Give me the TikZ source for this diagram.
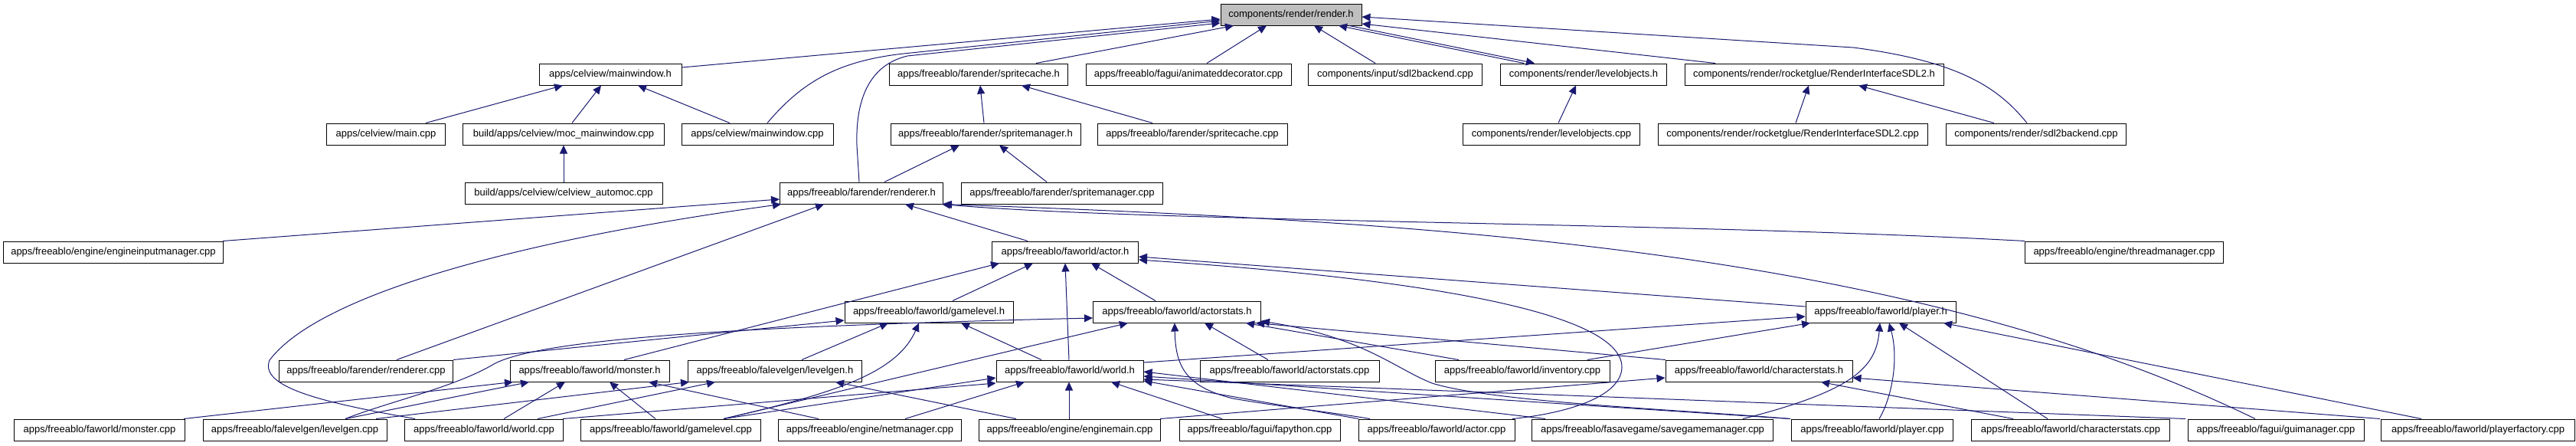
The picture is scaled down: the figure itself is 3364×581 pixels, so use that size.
\documentclass[tikz,border=0pt]{standalone}
\usepackage{fontspec}
\setmainfont{Liberation Sans}
\usetikzlibrary{arrows.meta}
\definecolor{edgeblue}{HTML}{191970}
\definecolor{rootgray}{HTML}{BFBFBF}
\begin{document}
\begin{tikzpicture}[x=1pt,y=-1pt,
  box/.style={draw=black, line width=1pt, minimum height=28pt, inner sep=0pt, font=\fontsize{13}{15}\selectfont},
  dep/.style={draw=edgeblue, line width=1pt, {Triangle[length=11pt,width=10pt]}-}]
\useasboundingbox (0,0) rectangle (3364,581);
% row 0
\node[box, fill=rootgray, minimum width=184pt] (render) at (1686,19) {components/render/render.h};
% row 1
\node[box, minimum width=186pt] (mwh) at (797,97) {apps/celview/mainwindow.h};
\node[box, minimum width=233pt] (sch) at (1278,97) {apps/freeablo/farender/spritecache.h};
\node[box, minimum width=268pt] (anim) at (1552,97) {apps/freeablo/fagui/animateddecorator.cpp};
\node[box, minimum width=227pt] (insdl) at (1822,97) {components/input/sdl2backend.cpp};
\node[box, minimum width=217pt] (loh) at (2068,97) {components/render/levelobjects.h};
\node[box, minimum width=338pt] (rih) at (2369,97) {components/render/rocketglue/RenderInterfaceSDL2.h};
% row 2
\node[box, minimum width=155pt] (main) at (504,175) {apps/celview/main.cpp};
\node[box, minimum width=263pt] (moc) at (736,175) {build/apps/celview/moc\_mainwindow.cpp};
\node[box, minimum width=198pt] (mwcpp) at (989,175) {apps/celview/mainwindow.cpp};
\node[box, minimum width=248pt] (smh) at (1287,175) {apps/freeablo/farender/spritemanager.h};
\node[box, minimum width=248pt] (sccpp) at (1557,175) {apps/freeablo/farender/spritecache.cpp};
\node[box, minimum width=231pt] (locpp) at (2026,175) {components/render/levelobjects.cpp};
\node[box, minimum width=352pt] (ricpp) at (2341,175) {components/render/rocketglue/RenderInterfaceSDL2.cpp};
\node[box, minimum width=235pt] (rsdl) at (2659,175) {components/render/sdl2backend.cpp};
% row 3
\node[box, minimum width=258pt] (automoc) at (736,252) {build/apps/celview/celview\_automoc.cpp};
\node[box, minimum width=213pt] (rendh) at (1125,252) {apps/freeablo/farender/renderer.h};
\node[box, minimum width=263pt] (smcpp) at (1387,252) {apps/freeablo/farender/spritemanager.cpp};
% row 4
\node[box, minimum width=287pt] (eim) at (148,329) {apps/freeablo/engine/engineinputmanager.cpp};
\node[box, minimum width=191pt] (actorh) at (1391,329) {apps/freeablo/faworld/actor.h};
\node[box, minimum width=259pt] (thread) at (2774,329) {apps/freeablo/engine/threadmanager.cpp};
% row 5
\node[box, minimum width=220pt] (glh) at (1213,407) {apps/freeablo/faworld/gamelevel.h};
\node[box, minimum width=219pt] (ash) at (1537,407) {apps/freeablo/faworld/actorstats.h};
\node[box, minimum width=196pt] (playerh) at (2456,407) {apps/freeablo/faworld/player.h};
% row 6
\node[box, minimum width=227pt] (rendcpp) at (478,484) {apps/freeablo/farender/renderer.cpp};
\node[box, minimum width=208pt] (monh) at (770,484) {apps/freeablo/faworld/monster.h};
\node[box, minimum width=227pt] (lgh) at (1012,484) {apps/freeablo/falevelgen/levelgen.h};
\node[box, minimum width=192pt] (worldh) at (1397,484) {apps/freeablo/faworld/world.h};
\node[box, minimum width=234pt] (ascpp) at (1684,484) {apps/freeablo/faworld/actorstats.cpp};
\node[box, minimum width=228pt] (invcpp) at (1988,484) {apps/freeablo/faworld/inventory.cpp};
\node[box, minimum width=244pt] (csh) at (2297,484) {apps/freeablo/faworld/characterstats.h};
% row 7
\node[box, minimum width=223pt] (moncpp) at (130,561) {apps/freeablo/faworld/monster.cpp};
\node[box, minimum width=240pt] (lgcpp) at (385,561) {apps/freeablo/falevelgen/levelgen.cpp};
\node[box, minimum width=207pt] (worldcpp) at (632,561) {apps/freeablo/faworld/world.cpp};
\node[box, minimum width=235pt] (glcpp) at (876,561) {apps/freeablo/faworld/gamelevel.cpp};
\node[box, minimum width=239pt] (netcpp) at (1136,561) {apps/freeablo/engine/netmanager.cpp};
\node[box, minimum width=237pt] (emcpp) at (1397,561) {apps/freeablo/engine/enginemain.cpp};
\node[box, minimum width=210pt] (pycpp) at (1645,561) {apps/freeablo/fagui/fapython.cpp};
\node[box, minimum width=204pt] (actorcpp) at (1876,561) {apps/freeablo/faworld/actor.cpp};
\node[box, minimum width=315pt] (sgcpp) at (2158,561) {apps/freeablo/fasavegame/savegamemanager.cpp};
\node[box, minimum width=211pt] (playercpp) at (2445,561) {apps/freeablo/faworld/player.cpp};
\node[box, minimum width=259pt] (cscpp) at (2704,561) {apps/freeablo/faworld/characterstats.cpp};
\node[box, minimum width=230pt] (guicpp) at (2972,561) {apps/freeablo/fagui/guimanager.cpp};
\node[box, minimum width=253pt] (pfcpp) at (3236,561) {apps/freeablo/faworld/playerfactory.cpp};

% ---- edges into render.h
\draw[dep] (render.west |- 0,25) -- (mwh.east |- 0,88);
\draw[dep] (render.west |- 0,27) -- (1180,70) .. controls (1090,80) and (1045,110) .. (1002,0 |- mwcpp.north);
\draw[dep] (render.west |- 0,30) -- (1185,73) .. controls (1135,85) and (1117,130) .. (1119,190) -- (1122,0 |- rendh.north);
\draw[dep] (1611,0 |- render.south) -- (1353,0 |- sch.north);
\draw[dep] (1654,0 |- render.south) -- (1576,0 |- anim.north);
\draw[dep] (1716,0 |- render.south) -- (1796,0 |- insdl.north);
\draw[dep] (1748,0 |- render.south) -- (1990,0 |- loh.north);
\draw[dep] (2004,0 |- loh.north) -- (1762,0 |- render.south);
\draw[dep] (render.east |- 0,31) -- (2240,0 |- rih.north);
\draw[dep] (render.east |- 0,22) -- (2420,62) .. controls (2560,80) and (2610,115) .. (2647,0 |- rsdl.north);
% ---- upper part
\draw[dep] (735,0 |- mwh.south) -- (556,0 |- main.north);
\draw[dep] (785,0 |- mwh.south) -- (747,0 |- moc.north);
\draw[dep] (833,0 |- mwh.south) -- (953,0 |- mwcpp.north);
\draw[dep] (moc.south) -- (automoc.north);
\draw[dep] (1280,0 |- sch.south) -- (1285,0 |- smh.north);
\draw[dep] (1334,0 |- sch.south) -- (1505,0 |- sccpp.north);
\draw[dep] (1253,0 |- smh.south) -- (1155,0 |- rendh.north);
\draw[dep] (1305,0 |- smh.south) -- (1367,0 |- smcpp.north);
\draw[dep] (2058,0 |- loh.south) -- (2035,0 |- locpp.north);
\draw[dep] (2362,0 |- rih.south) -- (2345,0 |- ricpp.north);
\draw[dep] (2427,0 |- rih.south) -- (2604,0 |- rsdl.north);
% ---- renderer.h
\draw[dep] (rendh.west |- 0,260) -- (291,0 |- eim.north);
\draw[dep] (1020,0 |- rendh.south) .. controls (700,310) and (420,380) .. (352,470) .. controls (338,505) and (420,525) .. (542,0 |- worldcpp.north);
\draw[dep] (1076,0 |- rendh.south) -- (518,0 |- rendcpp.north);
\draw[dep] (1182,0 |- rendh.south) -- (1342,0 |- actorh.north);
\draw[dep] (1230,0 |- rendh.south) .. controls (1500,290) and (2200,290) .. (2644,0 |- thread.north);
\draw[dep] (1232,0 |- rendh.south) .. controls (1900,290) and (2500,330) .. (2945,0 |- guicpp.north);
% ---- actor.h
\draw[dep] (1305,0 |- actorh.south) -- (815,0 |- monh.north);
\draw[dep] (1349,0 |- actorh.south) -- (1244,0 |- glh.north);
\draw[dep] (1391,0 |- actorh.south) -- (1396,0 |- worldh.north);
\draw[dep] (1425,0 |- actorh.south) -- (1509,0 |- ash.north);
\draw[dep] (actorh.east |- 0,335) -- (playerh.west |- 0,400);
\draw[dep] (actorh.east |- 0,339) .. controls (1800,360) and (2120,400) .. (2118,480) .. controls (2116,520) and (2040,540) .. (1975,0 |- actorcpp.north);
% ---- gamelevel.h
\draw[dep] (glh.west |- 0,418) -- (592,0 |- rendcpp.north);
\draw[dep] (1255,0 |- glh.south) -- (1360,0 |- worldh.north);
\draw[dep] (1160,0 |- glh.south) -- (1047,0 |- lgh.north);
\draw[dep] (1200,0 |- glh.south) .. controls (1170,490) and (1080,515) .. (945,0 |- glcpp.north);
% ---- actorstats.h
\draw[dep] (ash.west |- 0,415) .. controls (1000,425) and (710,440) .. (645,475) .. controls (595,505) and (505,525) .. (451,0 |- lgcpp.north);
\draw[dep] (1473,0 |- ash.south) -- (945,0 |- glcpp.north);
\draw[dep] (1573,0 |- ash.south) -- (1656,0 |- ascpp.north);
\draw[dep] (1627,0 |- ash.south) -- (1905,0 |- invcpp.north);
\draw[dep] (1640,0 |- ash.south) -- (2175,0 |- csh.north);
\draw[dep] (ash.east |- 0,419) .. controls (1780,440) and (1820,480) .. (1870,500) .. controls (1950,525) and (2200,535) .. (2338,0 |- playercpp.north);
\draw[dep] (1534,0 |- ash.south) .. controls (1535,480) and (1550,505) .. (1610,520) .. controls (1680,532) and (1740,538) .. (1789,0 |- actorcpp.north);
% ---- world.h
\draw[dep] (worldh.west |- 0,500) -- (735,0 |- worldcpp.north);
\draw[dep] (worldh.west |- 0,493) -- (945,0 |- glcpp.north);
\draw[dep] (1338,0 |- worldh.south) -- (1182,0 |- netcpp.north);
\draw[dep] (1396,0 |- worldh.south) -- (1396,0 |- emcpp.north);
\draw[dep] (1451,0 |- worldh.south) -- (1596,0 |- pycpp.north);
\draw[dep] (playerh.west |- 0,413) -- (worldh.east |- 0,473);
\draw[dep] (worldh.east |- 0,485) -- (2018,0 |- sgcpp.north);
\draw[dep] (worldh.east |- 0,495) -- (2854,0 |- guicpp.north);
\draw[dep] (worldh.east |- 0,497) -- (1774,0 |- actorcpp.north);
\draw[dep] (worldh.east |- 0,491) -- (2338,0 |- playercpp.north);
% ---- monster.h / levelgen.h
\draw[dep] (670,0 |- monh.south) -- (240,0 |- moncpp.north);
\draw[dep] (691,0 |- monh.south) -- (451,0 |- lgcpp.north);
\draw[dep] (738,0 |- monh.south) -- (658,0 |- worldcpp.north);
\draw[dep] (796,0 |- monh.south) -- (856,0 |- glcpp.north);
\draw[dep] (847,0 |- monh.south) -- (1069,0 |- netcpp.north);
\draw[dep] (900,0 |- lgh.south) -- (491,0 |- lgcpp.north);
\draw[dep] (934,0 |- lgh.south) -- (702,0 |- worldcpp.north);
\draw[dep] (1091,0 |- lgh.south) -- (1327,0 |- emcpp.north);
% ---- player.h / characterstats.h
\draw[dep] (csh.west |- 0,493) -- (1515,0 |- emcpp.north);
\draw[dep] (2378,0 |- csh.south) -- (2629,0 |- cscpp.north);
\draw[dep] (csh.east |- 0,493) -- (3108,0 |- pfcpp.north);
\draw[dep] (2538,0 |- playerh.south) -- (3162,0 |- pfcpp.north);
\draw[dep] (2480,0 |- playerh.south) -- (2674,0 |- cscpp.north);
\draw[dep] (2467,0 |- playerh.south) .. controls (2480,470) and (2470,520) .. (2454,0 |- playercpp.north);
\draw[dep] (2455,0 |- playerh.south) .. controls (2450,480) and (2420,510) .. (2276,0 |- sgcpp.north);
\draw[dep] (2364,0 |- playerh.south) -- (2073,0 |- invcpp.north);
\end{tikzpicture}
\end{document}
